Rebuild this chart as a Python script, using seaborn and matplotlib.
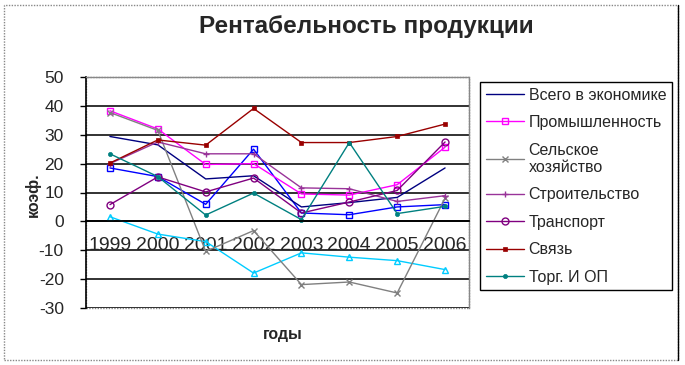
import numpy as np
import pandas as pd
import matplotlib
matplotlib.use("Agg")
import matplotlib.pyplot as plt
import seaborn as sns
from matplotlib.patches import Rectangle
from matplotlib.lines import Line2D

years = ['1999', '2000', '2001', '2002', '2003', '2004', '2005', '2006']
vsego = [29.4, 26.5, 14.7, 15.8, 5.0, 6.5, 8.3, 18.5]
prom = [38.3, 32.0, 19.7, 20.0, 9.5, 9.1, 12.7, 25.7]
selsk = [37.7, 31.5, -10.4, -3.2, -21.9, -21.0, -24.8, 8.0]
stroit = [20.0, 27.5, 23.4, 23.4, 11.6, 11.3, 6.9, 8.9]
transp = [5.8, 15.4, 10.2, 15.0, 2.9, 6.7, 10.7, 27.5]
svyaz = [20.2, 28.2, 26.4, 39.1, 27.3, 27.3, 29.4, 33.7]
torg = [23.4, 15.5, 2.2, 9.8, 0.6, 27.3, 2.7, 5.2]
extra_blue = [18.5, 15.5, 5.9, 25.0, 2.9, 2.3, 5.0, 5.8]
extra_cyan = [1.6, -4.4, -7.0, -17.9, -10.9, -12.4, -13.6, -16.7]

labels = ['Всего в экономике', 'Промышленность', 'Сельское\nхозяйство',
          'Строительство', 'Транспорт', 'Связь', 'Торг. И ОП']
yticks = [-30, -20, -10, 0, 10, 20, 30, 40, 50]

sns.set_theme(style='white')
plt.rcParams['font.family'] = ['Liberation Sans', 'DejaVu Sans']

fig = plt.figure(figsize=(6.85, 3.65), dpi=100)
ax = fig.add_axes([86/685, 1-308/365, (469-86)/685, (308-77)/365])

pos = np.arange(len(years))

styles = [
    (extra_blue, None, '#0000FF', 's', dict(markerfacecolor='none', markersize=5, markeredgewidth=1)),
    (extra_cyan, None, '#00CCFF', '^', dict(markerfacecolor='none', markersize=5, markeredgewidth=1)),
    (vsego, labels[0], '#000080', None, dict()),
    (prom, labels[1], '#FF00FF', 's', dict(markerfacecolor='none', markersize=5, markeredgewidth=1)),
    (selsk, labels[2], '#808080', 'x', dict(markersize=4, markeredgewidth=1)),
    (stroit, labels[3], '#993399', '+', dict(markersize=5, markeredgewidth=1)),
    (transp, labels[4], '#800080', 'o', dict(markerfacecolor='none', markersize=5, markeredgewidth=1)),
    (svyaz, labels[5], '#990000', 's', dict(markersize=3, markeredgewidth=0.5)),
    (torg, labels[6], '#008080', 'o', dict(markersize=3, markeredgewidth=0.5)),
]

handles = {}
for vals, lab, col, mk, kw in styles:
    sns.lineplot(x=pos, y=vals, ax=ax, color=col, marker=mk, linewidth=1.0,
                 markeredgecolor=col, legend=False, **kw)
    if lab is not None:
        handles[lab] = Line2D([], [], color=col, marker=mk, linewidth=1.0,
                              markeredgecolor=col, **kw)

ax.spines['bottom'].set_position(('data', 0))
ax.spines['bottom'].set_color('black')
ax.spines['bottom'].set_linewidth(1.3)
ax.spines['left'].set_color('black')
ax.spines['left'].set_linewidth(1.2)
for s in ['top', 'right']:
    ax.spines[s].set_color('#888888')
    ax.spines[s].set_linestyle((0, (1, 1)))
    ax.spines[s].set_linewidth(1.0)

ax.set_xlim(-0.5, len(years) - 0.5)
ax.set_ylim(-30, 50)
ax.set_yticks(yticks)
ax.set_yticklabels([str(v) for v in yticks])
ax.set_xticks(pos)
ax.set_xticklabels(years)
ax.set_xticks(np.arange(len(years) + 1) - 0.5, minor=True)
ax.tick_params(axis='x', which='major', length=0, pad=11, labelsize=14)
ax.tick_params(axis='x', which='minor', length=4, width=1, color='black', direction='out')
ax.tick_params(axis='y', length=4, width=1, color='black', direction='out', left=True,
               pad=12, labelsize=12.5)

ax.grid(axis='y', color='#222222', linewidth=1.3)
ax.grid(axis='x', visible=False)

ax.add_patch(Rectangle((0, 0), 1, 1, transform=ax.transAxes, fill=False,
                       edgecolor='#888888', linestyle=(0, (1, 1)), linewidth=1.0,
                       zorder=0.5, clip_on=False))

ax.set_ylabel('')
ax.set_xlabel('')
fig.text(33/685, 1-195/365, 'коэф.', rotation=90, ha='center', va='center',
         fontsize=11.5, fontweight='bold')
fig.text(283/685, 1-335/365, 'годы', ha='center', va='center',
         fontsize=11.5, fontweight='bold')
fig.text(366/685, 1-27/365, 'Рентабельность продукции', ha='center', va='center',
         fontsize=17.5, fontweight='bold')

leg = fig.legend(handles=[handles[l] for l in labels], labels=labels,
                 loc='upper left', bbox_to_anchor=(480/685, 1-82/365),
                 bbox_transform=fig.transFigure, fontsize=11.5, frameon=True,
                 fancybox=False, edgecolor='black', framealpha=1,
                 handlelength=2.4, handletextpad=0.3, labelspacing=0.78,
                 borderpad=0.35, borderaxespad=0)
leg.get_frame().set_linewidth(1.0)

# outer chart border
fig.add_artist(Rectangle((4/685, 5/365), (678-4)/685, (360-5)/365,
                         transform=fig.transFigure, fill=False,
                         edgecolor='#888888', linestyle=(0, (1, 1)), linewidth=1.0))
fig.add_artist(Line2D([678/685, 678/685], [5/365, 1-5/365], transform=fig.transFigure,
                      color='black', linewidth=1.0))

fig.savefig('out.png', dpi=100)
